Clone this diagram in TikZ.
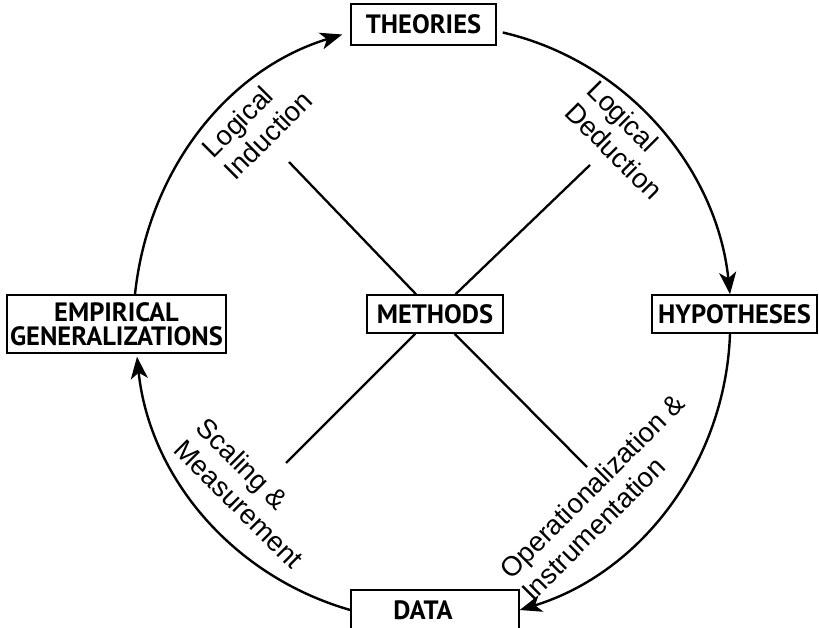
\documentclass[tikz,border=0pt]{standalone}
\usepackage{fontspec}
\setmainfont{Liberation Sans}
\newfontfamily\stagefont{PT Sans}
\usetikzlibrary{arrows.meta}

\begin{document}
\begin{tikzpicture}[x=1pt,y=1pt,
    stage/.style={draw,line width=1.5pt,fill=white,inner sep=0pt,align=center,
        font=\stagefont\bfseries\fontsize{26.5}{24}\selectfont},
    link/.style={line width=2.4pt,-{Stealth[length=22pt,width=17pt,inset=6pt]}},
    spoke/.style={line width=2.3pt},
    method/.style={align=left,font=\fontsize{27.5}{31}\selectfont}]
  \useasboundingbox[clip] (0,0) rectangle (819,627);

  \node [stage,minimum width=145pt,minimum height=41pt] (theo) at (423.5,602.5) {THEORIES};
  \node [stage,minimum width=165pt,minimum height=38pt] (hyp) at (734.5,313) {HYPOTHESES};
  \node [stage,minimum width=168pt,minimum height=40pt] (data) at (435,17) {DATA\hspace*{24pt}};
  \node [stage,minimum width=219pt,minimum height=58pt] (emp) at (116.5,303) {EMPIRICAL\\GENERALIZATIONS};
  \node [stage,minimum width=136pt,minimum height=38pt] (meth) at (435,313) {METHODS};

  % ends of the cross
  \coordinate (ul) at (289,465);
  \coordinate (ur) at (590,462);
  \coordinate (ll) at (286,164);
  \coordinate (lr) at (587,160);
  \draw [spoke] (ul) -- (meth);
  \draw [spoke] (ur) -- (meth);
  \draw [spoke] (ll) -- (meth);
  \draw [spoke] (lr) -- (meth);

  % the cycle
  \draw [link] ([shift={(6pt,-8pt)}]theo.east) to[out=-13,in=96,looseness=0.94] ([xshift=-4.5pt]hyp.north);
  \draw [link] ([xshift=-4.5pt]hyp.south) to[out=-92,in=17,looseness=0.94] (data.east);
  \draw [link] (data.west) to[out=164,in=-84,looseness=0.94] ([shift={(20.5pt,-3pt)}]emp.south);
  \draw [link] ([xshift=18.5pt]emp.north) to[out=84,in=197,looseness=0.94] ([shift={(-8pt,-10pt)}]theo.west);

  \node [method,rotate=45] (induct) at (257,503) {Logical\\Induction};
  \node [method,rotate=-45] (deduct) at (625,487) {Logical\\Deduction};
  \node [method,rotate=-45] (scale) at (250,134) {Scaling \&\\Measurement};
  \node [method,rotate=45] (oper) at (603,130) {Operationalization \&\\Instrumentation};
\end{tikzpicture}
\end{document}
